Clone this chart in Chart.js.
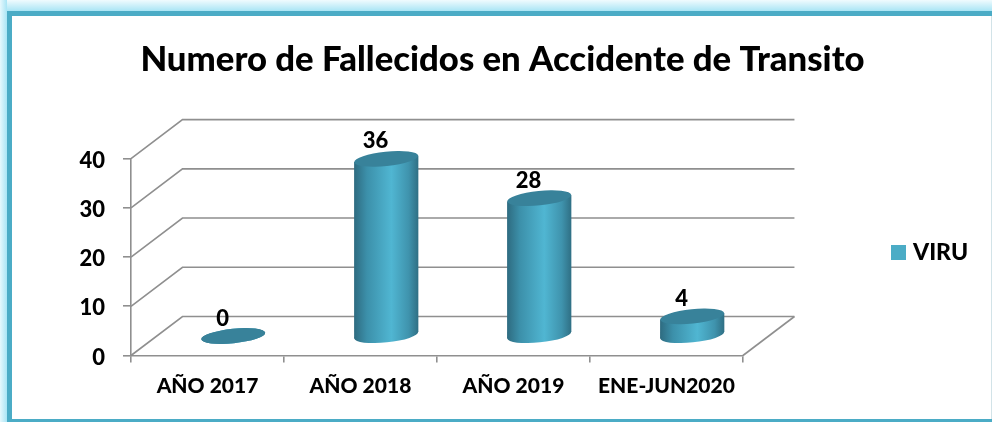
<!DOCTYPE html>
<html>
<head>
<meta charset="utf-8">
<script src="https://cdn.jsdelivr.net/npm/chart.js@4"></script>
<style>
  html, body { margin: 0; padding: 0; width: 992px; height: 422px; overflow: hidden; background: #fff; }
  #glowTop { position: absolute; left: 0; top: 0; width: 992px; height: 11px; background: linear-gradient(to bottom, #f0fbfe, #a9e5f5); }
  #glowLeft { position: absolute; left: 0; top: 0; width: 7px; height: 422px; background: linear-gradient(to right, #e6f8fd, #a9e5f5); }
  #frame {
    position: absolute; left: 7px; top: 11px; width: 985px; height: 411px; box-sizing: border-box;
    background: #fff;
    border-style: solid; border-color: #4bacc6; border-width: 5px 0 3px 5px;
  }
  #rightEdge { position: absolute; left: 991px; top: 16px; width: 1px; height: 403px; background: #d2e3e8; }
  #myChart { position: absolute; left: 0; top: 0; }
</style>
</head>
<body>
<div id="glowTop"></div>
<div id="glowLeft"></div>
<div id="frame"></div>
<div id="rightEdge"></div>
<canvas id="myChart" width="992" height="422"></canvas>
<script>
// DATA
const categories = ["AÑO 2017", "AÑO 2018", "AÑO 2019", "ENE-JUN2020"];
const seriesName = "VIRU";
const seriesValues = [0, 36, 28, 4];
const yTicks = [0, 10, 20, 30, 40];

// STYLE
const fontName = "Lato, Carlito, sans-serif";
const tealColor = "#4bacc6";
const capColor = "#38829a";
const gridColor = "#8f8f8f";
const depthX = 51.5;
const depthY = -39;
const capHeight = 7.2;
const capTilt = -6 * Math.PI / 180;
const capDrop = 3.2;

function cylinderGradient(c, center, halfWidth) {
  const g = c.createLinearGradient(center - halfWidth, 0, center + halfWidth, 0);
  g.addColorStop(0, "#2e6b80");
  g.addColorStop(0.2, "#3c90aa");
  g.addColorStop(0.58, "#50b6d2");
  g.addColorStop(0.85, "#3f93ad");
  g.addColorStop(1, "#2f6f84");
  return g;
}

function drawEllipse(c, x, y, rx, fill) {
  c.beginPath();
  c.ellipse(x, y, rx, capHeight, capTilt, 0, Math.PI * 2);
  c.fillStyle = fill;
  c.fill();
}

// back walls and floor of the 3D box
const wallsPlugin = {
  id: "walls",
  beforeDatasetsDraw(chart) {
    const c = chart.ctx;
    const { left, right, bottom } = chart.chartArea;
    c.save();
    c.strokeStyle = gridColor;
    c.lineWidth = 1.6;
    yTicks.forEach((tick) => {
      const y = chart.scales.y.getPixelForValue(tick);
      c.beginPath();
      c.moveTo(left, y);
      c.lineTo(left + depthX, y + depthY);
      c.lineTo(right + depthX, y + depthY);
      c.stroke();
    });
    c.beginPath();
    c.moveTo(right, bottom);
    c.lineTo(right + depthX, bottom + depthY);
    c.stroke();
    c.restore();
  },
};

// draws each bar element as a cylinder in the middle of the box
const cylinderPlugin = {
  id: "cylinder",
  beforeDatasetDraw(chart, args) {
    const c = chart.ctx;
    c.save();
    c.translate(depthX / 2, depthY / 2);
    args.meta.data.forEach((bar, i) => {
      const rx = bar.width / 2;
      const fill = cylinderGradient(c, bar.x, rx);
      drawEllipse(c, bar.x, bar.base, rx, fill);
      if (bar.base - bar.y > 0) {
        c.beginPath();
        c.moveTo(bar.x - rx, bar.y + capDrop);
        c.lineTo(bar.x + rx, bar.y - capDrop);
        c.lineTo(bar.x + rx, bar.base - capDrop);
        c.lineTo(bar.x - rx, bar.base + capDrop);
        c.closePath();
        c.fillStyle = fill;
        c.fill();
      }
      drawEllipse(c, bar.x, bar.y, rx, capColor);
      c.fillStyle = "#000";
      c.font = "900 22px " + fontName;
      c.textAlign = "center";
      c.textBaseline = "middle";
      c.fillText(seriesValues[i], bar.x - 10.7, bar.y - 17.5);
    });
    c.restore();
    return false;
  },
};

// legend and title do not sit where the layout puts them
const placePlugin = {
  id: "place",
  afterLayout(chart) {
    const legend = chart.legend;
    const legendHeight = legend.bottom - legend.top;
    legend.left = 891;
    legend.right = 991;
    legend.top = 252.5 - legendHeight / 2;
    legend.bottom = legend.top + legendHeight;
    chart.titleBlock.left = 13;
    chart.titleBlock.right = 992;
  },
};

const chart = new Chart(document.querySelector("#myChart"), {
  type: "bar",
  data: {
    labels: categories,
    datasets: [
      {
        label: seriesName,
        data: seriesValues,
        backgroundColor: tealColor,
        borderWidth: 0,
        barPercentage: 1,
        categoryPercentage: 0.42,
      },
    ],
  },
  plugins: [wallsPlugin, cylinderPlugin, placePlugin],
  options: {
    responsive: false,
    animation: false,
    layout: { padding: { left: 13, right: 162, top: 0, bottom: 0 } },
    plugins: {
      tooltip: { enabled: false },
      title: {
        display: true,
        text: "Numero de Fallecidos en Accidente de Transito",
        color: "#000",
        font: { family: fontName, size: 34.7, weight: "900", lineHeight: 1.2 },
        padding: { top: 39, bottom: 78 },
      },
      legend: {
        position: "right",
        labels: {
          color: "#000",
          font: { family: fontName, size: 23, weight: "900" },
          usePointStyle: true,
          pointStyle: "rect",
          boxWidth: 6,
          boxHeight: 15,
          padding: 4.5,
        },
      },
    },
    scales: {
      x: {
        afterFit(scale) {
          scale.height = 66.5;
        },
        grid: { drawOnChartArea: false, color: gridColor, lineWidth: 1.6, tickLength: 7 },
        border: { color: gridColor, width: 1.6 },
        ticks: { color: "#000", font: { family: fontName, size: 21, weight: "900" }, padding: 11, maxRotation: 0 },
      },
      y: {
        min: 0,
        max: 40,
        afterFit(scale) {
          scale.width = 118;
        },
        afterBuildTicks(scale) {
          scale.ticks = yTicks.map((value) => ({ value }));
        },
        grid: { drawOnChartArea: false, color: gridColor, lineWidth: 1.6, tickLength: 8 },
        border: { color: gridColor, width: 1.6 },
        ticks: { color: "#000", font: { family: fontName, size: 22, weight: "900" }, padding: 18, labelOffset: 2 },
      },
    },
  },
});
</script>
</body>
</html>
